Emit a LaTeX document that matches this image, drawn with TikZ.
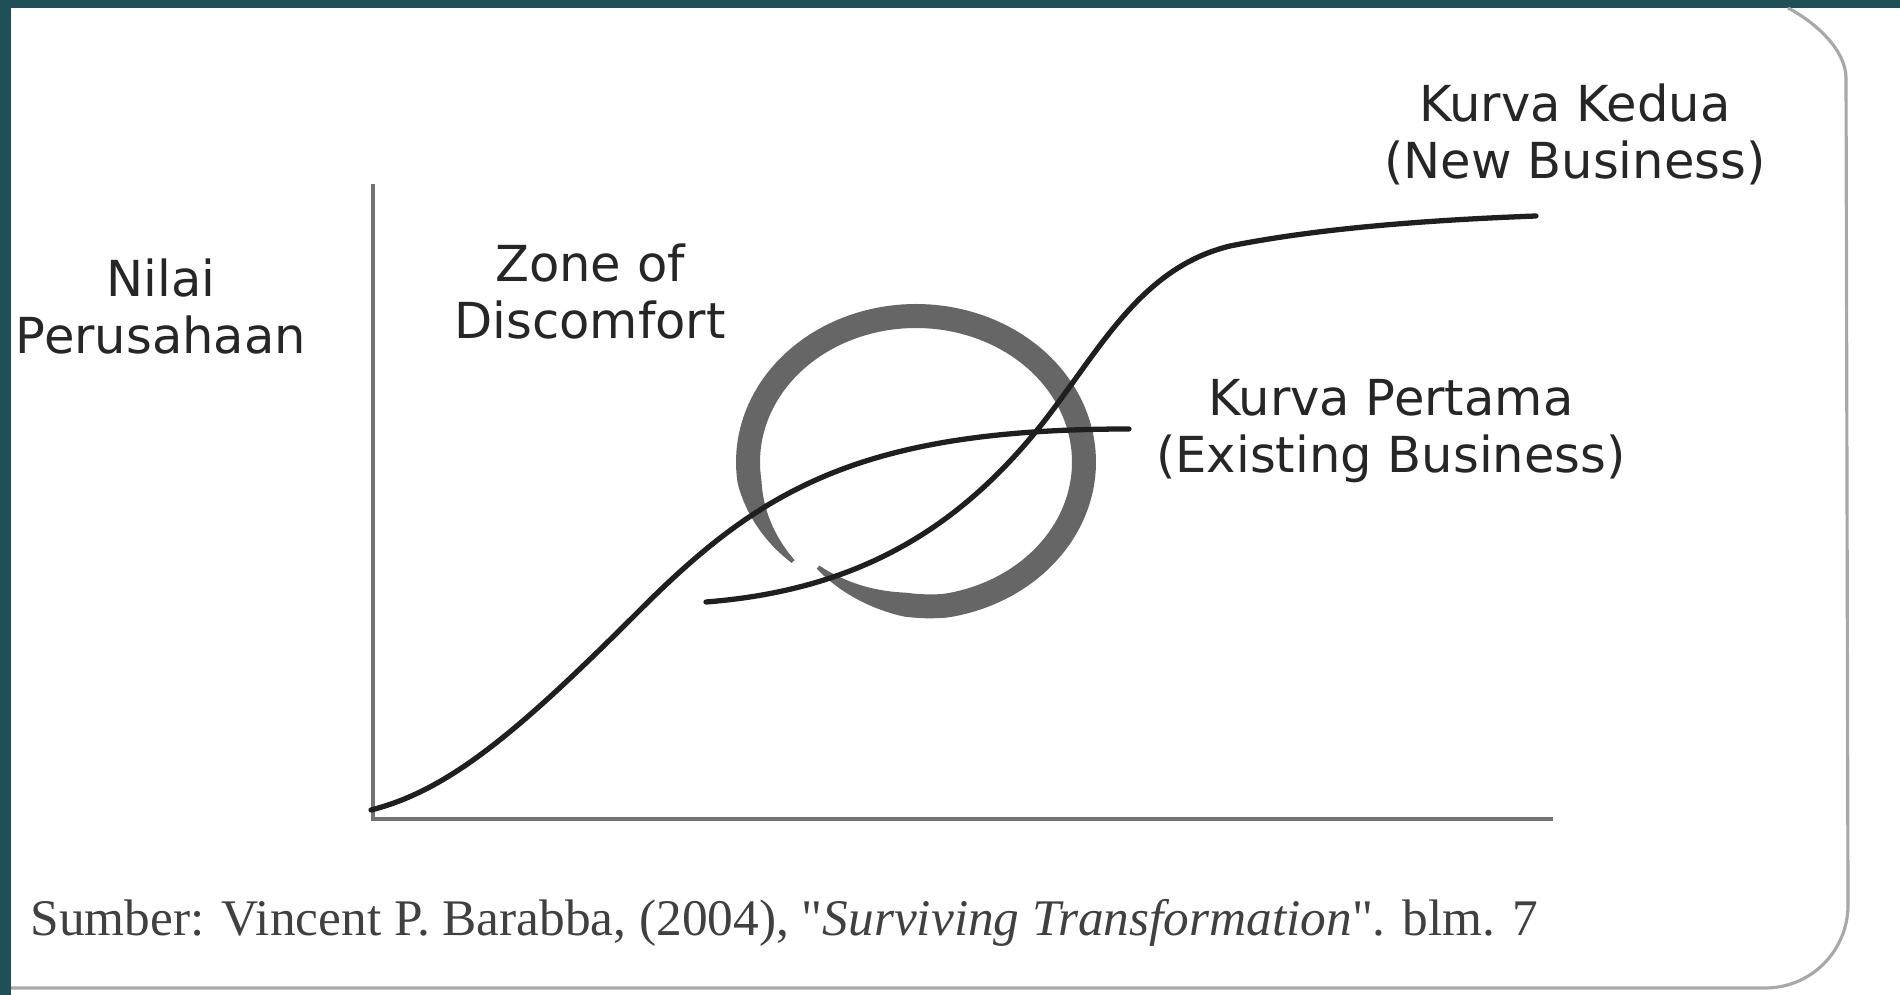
\documentclass[tikz,border=0pt]{standalone}
\usepackage{fontspec}
\setmainfont{Liberation Serif}[Ligatures=TeXOff]
\newfontfamily\labelfont{DejaVu Sans}

\definecolor{slidebg}{HTML}{1F5058}
\definecolor{cardline}{HTML}{A8A8A8}
\definecolor{ringgray}{HTML}{666666}

\tikzset{
	lbl/.style={align=center,text=black!85,inner sep=0,font=\labelfont\fontsize{14.1}{16.2}\selectfont},
	src/.style={anchor=west,text=black!75,inner sep=0,font=\fontsize{14.6}{16}\selectfont},
	axisline/.style={draw=black!55,line width=0.9pt},
	kurva/.style={draw=black!88,line width=1.5pt,line cap=round},
	card/.style={draw=cardline,line width=0.9pt}
}

\begin{document}
\begin{tikzpicture}[x=0.01cm,y=-0.01cm,
	declare function={ringw(\t)=4+20*min(1,(\t-137)/35,(489-\t)/35); rings(\t)=1-0.0015*max(0,\t-440);}]
	\useasboundingbox (0,0) rectangle (1900,995);
	\fill[white] (0,0) rectangle (1900,995);
	\fill[slidebg] (0,0) rectangle (1900,8);
	\fill[slidebg] (0,0) rectangle (11,995);
	\draw[card] (11,988) -- (1765,988) .. controls (1812,988) and (1848,950) .. (1848,905) -- (1846,78) .. controls (1846,50) and (1815,22) .. (1788,8);

	\coordinate (o) at (373,819);
	\coordinate (ytop) at (373,184);
	\coordinate (xend) at (1553,819);
	\draw[axisline] (ytop) -- (o) -- (xend);

	\fill[ringgray] plot[domain=137:489,samples=160] ({916+(168*rings(\x)+ringw(\x)/2)*cos(\x)},{462+(146*rings(\x)+ringw(\x)/2)*sin(\x)})
		-- plot[domain=489:137,samples=160] ({916+(168*rings(\x)-ringw(\x)/2)*cos(\x)},{462+(146*rings(\x)-ringw(\x)/2)*sin(\x)}) -- cycle;

	\draw[kurva] (371,810) .. controls (450,790) and (520,730) .. (640,610) .. controls (760,490) and (860,429) .. (1129,429);
	\draw[kurva] (706,602) .. controls (860,590) and (960,527) .. (1042,424) .. controls (1100,350) and (1140,268) .. (1230,246) .. controls (1320,228) and (1430,220) .. (1536,216);

	\node[lbl] (nilai) at (161,307) {Nilai\\Perusahaan};
	\node[lbl] (zona) at (590,292) {Zone of\\Discomfort};
	\node[lbl] (kedua) at (1575,134) {Kurva Kedua\\(New Business)};
	\node[lbl] (pertama) at (1391,431) {Kurva Pertama\\(Existing Business)};
	\node[src] (sumber) at (30,923) {Sumber: Vincent P. Barabba, (2004), "\textit{Surviving Transformation}". blm. 7};
\end{tikzpicture}
\end{document}
